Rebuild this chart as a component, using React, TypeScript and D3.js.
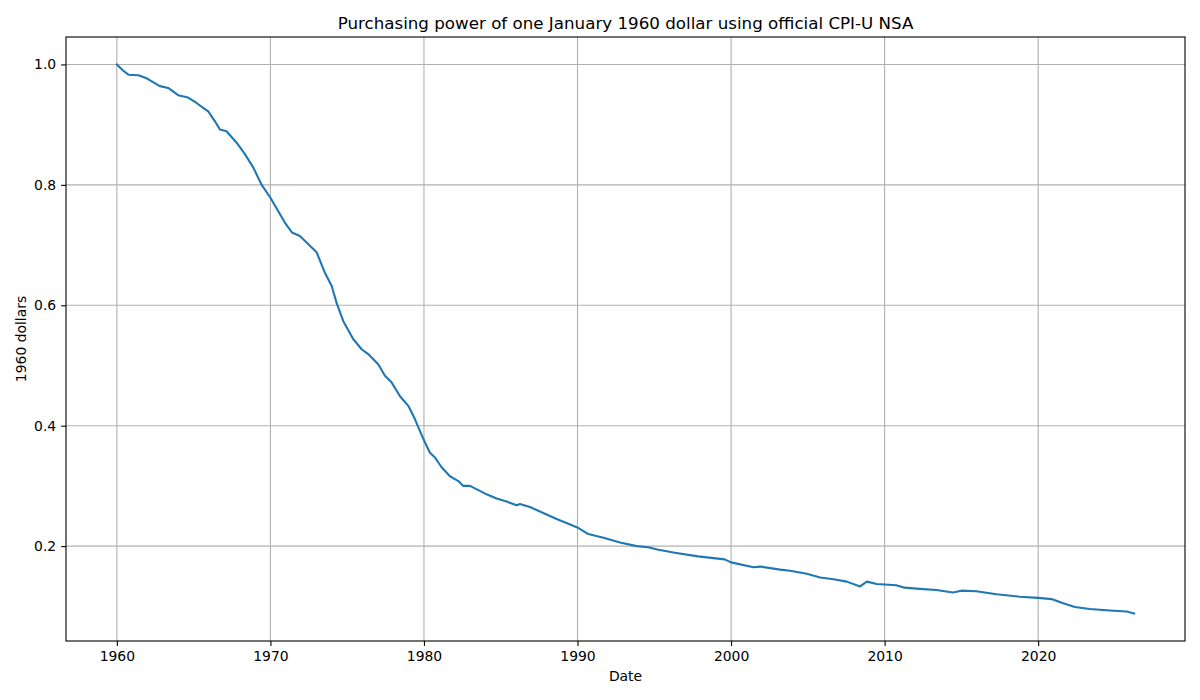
import React, { useRef, useEffect } from 'react';
import * as d3 from 'd3';

// Purchasing power of a January 1960 dollar
const years: number[] = [
  1960.0, 1960.4, 1960.75, 1961.4, 1961.94, 1962.8, 1963.34, 1963.99, 1964.64, 1965.19,
  1965.62, 1965.95, 1966.38, 1966.71, 1967.14, 1967.8, 1968.34, 1968.88, 1969.43, 1969.99,
  1970.95, 1971.4, 1971.92, 1973.01, 1973.55, 1973.99, 1974.31, 1974.74, 1975.39, 1975.94,
  1976.37, 1977.02, 1977.46, 1977.89, 1978.44, 1978.98, 1979.41, 1979.74, 1980.07, 1980.39,
  1980.72, 1981.15, 1981.69, 1982.24, 1982.56, 1983.0, 1983.54, 1984.08, 1984.73, 1985.38,
  1986.04, 1986.25, 1986.9, 1987.77, 1988.64, 1989.4, 1989.99, 1990.7, 1991.69, 1992.77,
  1993.86, 1994.6, 1995.27, 1996.33, 1997.85, 1999.58, 2000.0, 2001.46, 2001.89, 2003.2,
  2003.84, 2004.93, 2005.8, 2006.67, 2007.54, 2008.4, 2008.84, 2009.49, 2010.76, 2011.3,
  2012.28, 2013.37, 2014.45, 2015.0, 2015.98, 2017.28, 2018.8, 2020.0, 2020.87, 2021.63,
  2022.39, 2023.37, 2024.67, 2025.75, 2026.25,
];

const values: number[] = [
  1.0, 0.99, 0.983, 0.982, 0.977, 0.964, 0.961, 0.949, 0.945, 0.936,
  0.928, 0.922, 0.906, 0.892, 0.889, 0.87, 0.851, 0.829, 0.8, 0.779,
  0.737, 0.721, 0.715, 0.688, 0.654, 0.632, 0.604, 0.574, 0.544, 0.527,
  0.519, 0.502, 0.483, 0.472, 0.449, 0.433, 0.411, 0.391, 0.372, 0.355,
  0.347, 0.331, 0.316, 0.308, 0.3, 0.3, 0.293, 0.286, 0.279, 0.274,
  0.268, 0.27, 0.265, 0.255, 0.245, 0.237, 0.231, 0.22, 0.214, 0.206,
  0.2, 0.198, 0.194, 0.189, 0.183, 0.178, 0.173, 0.165, 0.166, 0.161,
  0.159, 0.154, 0.148, 0.145, 0.141, 0.133, 0.141, 0.137, 0.135, 0.131,
  0.129, 0.127, 0.123, 0.126, 0.125, 0.12, 0.116, 0.114, 0.112, 0.105,
  0.099, 0.0955, 0.093, 0.0915, 0.088,
];

const xTicks: number[] = [1960, 1970, 1980, 1990, 2000, 2010, 2020];
const yTicks: number[] = [0.2, 0.4, 0.6, 0.8, 1.0];

const WIDTH = 1200;
const HEIGHT = 700;

export default function App() {
  const svgRef = useRef<SVGSVGElement>(null);

  useEffect(() => {
    if (!svgRef.current) return;
    const svg = d3.select(svgRef.current);
    svg.selectAll('*').remove();

    const margin = { top: 37, right: 15, bottom: 59, left: 66 };
    const innerWidth = WIDTH - margin.left - margin.right;
    const innerHeight = HEIGHT - margin.top - margin.bottom;
    const font = '"DejaVu Sans", sans-serif';

    // matplotlib-style 5% padding around the data
    const [x0, x1] = d3.extent(years) as [number, number];
    const [v0, v1] = d3.extent(values) as [number, number];
    const xPad = (x1 - x0) * 0.05;
    const yPad = (v1 - v0) * 0.05;

    const xScale = d3.scaleLinear().domain([x0 - xPad, x1 + xPad]).range([0, innerWidth]);
    const yScale = d3.scaleLinear().domain([v0 - yPad, v1 + yPad]).range([innerHeight, 0]);

    const g = svg.append('g').attr('transform', `translate(${margin.left},${margin.top})`);

    // grid
    g.append('g')
      .selectAll('line')
      .data(xTicks)
      .enter().append('line')
      .attr('x1', d => xScale(d)).attr('x2', d => xScale(d))
      .attr('y1', 0).attr('y2', innerHeight)
      .attr('stroke', '#b0b0b0').attr('stroke-width', 1.1);

    g.append('g')
      .selectAll('line')
      .data(yTicks)
      .enter().append('line')
      .attr('x1', 0).attr('x2', innerWidth)
      .attr('y1', d => yScale(d)).attr('y2', d => yScale(d))
      .attr('stroke', '#b0b0b0').attr('stroke-width', 1.1);

    // line
    const line = d3.line<number>()
      .x((_, i) => xScale(years[i]))
      .y(d => yScale(d));

    g.append('path')
      .datum(values)
      .attr('fill', 'none')
      .attr('stroke', '#1f77b4')
      .attr('stroke-width', 2.1)
      .attr('stroke-linejoin', 'round')
      .attr('stroke-linecap', 'square')
      .attr('d', line);

    // axes
    const xAxis = g.append('g')
      .attr('transform', `translate(0,${innerHeight})`)
      .call(d3.axisBottom(xScale).tickValues(xTicks).tickFormat(d3.format('d')).tickSize(4.9).tickPadding(4.9).tickSizeOuter(0));
    const yAxis = g.append('g')
      .call(d3.axisLeft(yScale).tickValues(yTicks).tickFormat(d3.format('.1f')).tickSize(4.9).tickPadding(4.9).tickSizeOuter(0));

    [xAxis, yAxis].forEach(ax => {
      ax.select('.domain').remove();
      ax.selectAll('line').attr('stroke', '#000').attr('stroke-width', 1.1);
      ax.selectAll('text')
        .style('font-family', font)
        .style('font-size', '13.9px')
        .attr('fill', '#000');
    });

    // frame
    g.append('rect')
      .attr('width', innerWidth)
      .attr('height', innerHeight)
      .attr('fill', 'none')
      .attr('stroke', '#000')
      .attr('stroke-width', 1.1);

    // labels
    svg.append('text')
      .attr('x', margin.left + innerWidth / 2)
      .attr('y', 29)
      .attr('text-anchor', 'middle')
      .style('font-family', font)
      .style('font-size', '16.7px')
      .text('Purchasing power of one January 1960 dollar using official CPI-U NSA');

    svg.append('text')
      .attr('x', margin.left + innerWidth / 2)
      .attr('y', 681)
      .attr('text-anchor', 'middle')
      .style('font-family', font)
      .style('font-size', '13.9px')
      .text('Date');

    svg.append('text')
      .attr('transform', `translate(26,${margin.top + innerHeight / 2}) rotate(-90)`)
      .attr('text-anchor', 'middle')
      .style('font-family', font)
      .style('font-size', '13.9px')
      .text('1960 dollars');
  }, []);

  return (
    <svg
      ref={svgRef}
      width={WIDTH}
      height={HEIGHT}
      style={{ position: 'absolute', left: 0, top: 0, background: '#fff' }}
    />
  );
}
